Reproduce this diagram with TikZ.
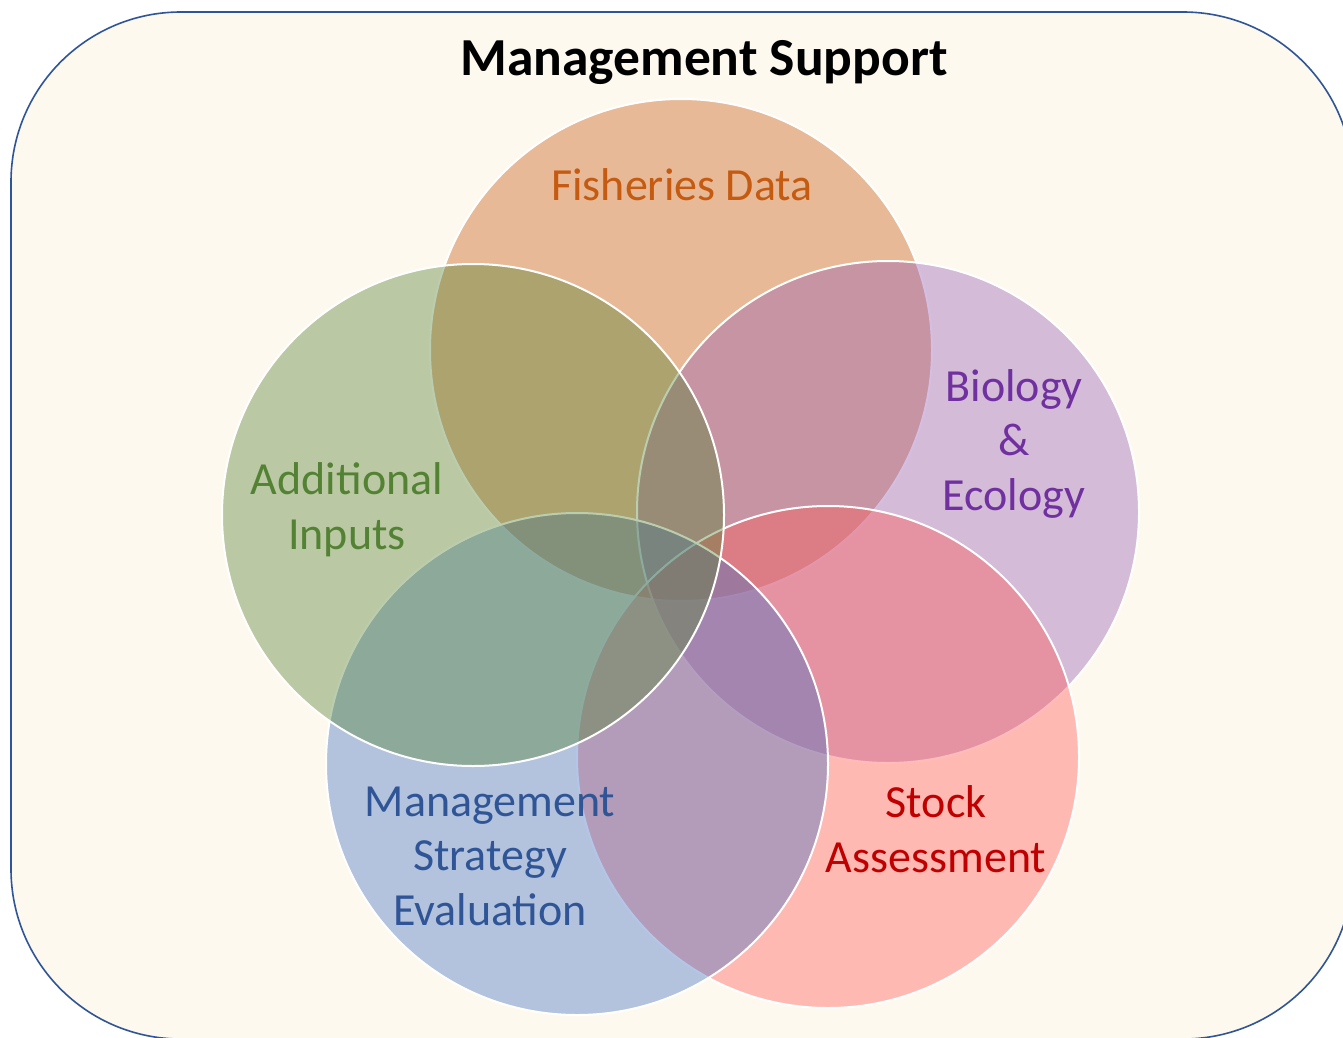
\documentclass[tikz,border=0pt]{standalone}
\usepackage{fontspec}
\setmainfont{Carlito}
\definecolor{bgfill}{RGB}{254,249,239}
\definecolor{framec}{RGB}{47,85,151}
\definecolor{cOrange}{RGB}{197,90,17}
\definecolor{cGreen}{RGB}{84,130,53}
\definecolor{cPurple}{RGB}{149,94,181}
\definecolor{cBlue}{RGB}{68,114,196}
\definecolor{cRed}{RGB}{255,89,87}
\definecolor{tOrange}{RGB}{197,90,17}
\definecolor{tGreen}{RGB}{84,130,53}
\definecolor{tPurple}{RGB}{112,48,160}
\definecolor{tBlue}{RGB}{47,85,151}
\definecolor{tRed}{RGB}{192,0,0}
\begin{document}
\begin{tikzpicture}[x=1pt,y=-1pt,
  venn/.style={circle, minimum size=502pt, inner sep=0pt, draw=white, line width=2pt, fill opacity=0.4, draw opacity=1},
  lab/.style={align=center, anchor=base, font=\fontsize{46}{54.5}\selectfont},
  frame/.style={draw=framec, line width=1.6pt, fill=bgfill, rounded corners=170pt}]
\useasboundingbox (0,0) rectangle (1343,1038);
\clip (0,0) rectangle (1343,1038);
\fill[white] (0,0) rectangle (1343,1038);
\path[frame] (11,12) rectangle (1353,1039);
\node[font=\bfseries\fontsize{53.5}{60}\selectfont, anchor=base] (title) at (704,76) {Management Support};
\node[venn, fill=cOrange] (fish) at (681,350) {};
\node[venn, fill=cPurple] (bio) at (888,512) {};
\node[venn, fill=cRed] (stock) at (828,757) {};
\node[venn, fill=cBlue] (mse) at (577,764) {};
\node[venn, fill=cGreen] (add) at (473,515) {};
\node[lab, text=tOrange] (lfish) at (682,200) {Fisheries Data};
\node[lab, text=tGreen] (ladd) at (347,549) {Additional\\Inputs};
\node[lab, text=tPurple] (lbio) at (1014,510) {Biology\\\&\\Ecology};
\node[lab, text=tBlue] (lmse) at (490,925) {Management\\Strategy\\Evaluation};
\node[lab, text=tRed] (lstock) at (936,872) {Stock\\Assessment};
\end{tikzpicture}
\end{document}
